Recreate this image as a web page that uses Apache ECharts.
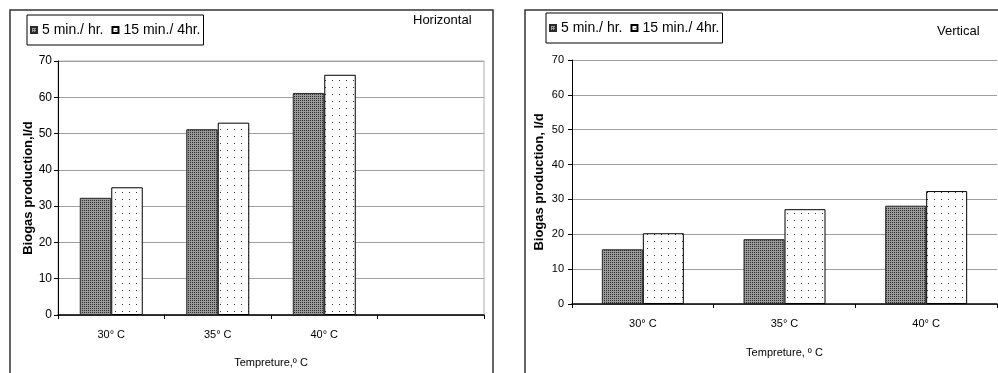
<!DOCTYPE html>
<html lang="en">
<head>
    <meta charset="UTF-8">
    <title>Biogas production</title>
    <style>
        html, body { margin: 0; padding: 0; background: #fff; }
        #chart { width: 998px; height: 373px; }
    </style>
</head>
<body>
    <div id="chart"></div>
    <script src="https://cdn.jsdelivr.net/npm/echarts@6/dist/echarts.min.js"></script>
    <script>
        // data
        var seriesNames = ['5 min./ hr.', '15 min./ 4hr.'];
        var catsHorizontal = ['30° C', '35° C', '40° C', ''];
        var catsVertical = ['30° C', '35° C', '40° C'];
        var horizShort = [32.3, 51.2, 61.2];
        var horizLong = [35.2, 53.0, 66.2];
        var vertShort = [15.7, 18.6, 28.2];
        var vertLong = [20.3, 27.2, 32.4];
        var yMin = 0, yMax = 70, yStep = 10;

        var font = 'Liberation Sans, Arial, sans-serif';

        // fill patterns: dark stipple and sparse dots
        function makeDark() {
            var c = document.createElement('canvas');
            c.width = 2; c.height = 2;
            var g = c.getContext('2d');
            g.fillStyle = '#9a9a9a';
            g.fillRect(0, 0, 2, 2);
            g.fillStyle = '#2e2e2e';
            g.fillRect(0, 0, 1, 1);
            return c;
        }
        function makeDots() {
            var c = document.createElement('canvas');
            c.width = 7; c.height = 7;
            var g = c.getContext('2d');
            g.fillStyle = '#fff';
            g.fillRect(0, 0, 7, 7);
            g.fillStyle = '#333';
            g.fillRect(3, 3, 1, 1);
            return c;
        }
        var darkFill = { image: makeDark(), repeat: 'repeat' };
        var dotFill = { image: makeDots(), repeat: 'repeat' };

        function yAxis(idx, labelSize, labelMargin, nameGap, name) {
            return {
                gridIndex: idx,
                type: 'value',
                min: yMin, max: yMax, interval: yStep,
                name: name,
                nameLocation: 'middle',
                nameGap: nameGap,
                nameTextStyle: { fontFamily: font, fontSize: 13, fontWeight: 'bold', color: '#000' },
                axisLine: { show: true, lineStyle: { color: '#000', width: 1 } },
                axisTick: { show: true, length: 4, lineStyle: { color: '#000' } },
                axisLabel: { fontFamily: font, fontSize: labelSize, color: '#000', margin: labelMargin },
                splitLine: { lineStyle: { color: '#a0a0a0', width: 1 } }
            };
        }
        function xAxis(idx, cats, name, nameGap) {
            return {
                gridIndex: idx,
                type: 'category',
                data: cats,
                name: name,
                nameLocation: 'middle',
                nameGap: nameGap,
                nameTextStyle: { fontFamily: font, fontSize: 11, color: '#000' },
                axisLine: { lineStyle: { color: '#000', width: 1.5 } },
                axisTick: { show: true, length: 4, interval: 0, lineStyle: { color: '#000' } },
                axisLabel: { fontFamily: font, fontSize: 11, color: '#000', margin: 14, interval: 0 }
            };
        }
        function legend(left, top) {
            return {
                left: left, top: top,
                data: seriesNames,
                icon: 'rect',
                itemWidth: 6, itemHeight: 6,
                itemGap: 8,
                padding: [8, 3, 8, 3],
                borderColor: '#000', borderWidth: 1,
                backgroundColor: '#fff',
                selectedMode: false,
                textStyle: { fontFamily: font, fontSize: 14, color: '#000' }
            };
        }
        function bar(name, idx, values, fill, border, width) {
            return {
                name: name,
                type: 'bar',
                xAxisIndex: idx, yAxisIndex: idx,
                data: values,
                barWidth: width,
                barGap: '0%',
                itemStyle: { color: fill, borderColor: border, borderWidth: 1 },
                emphasis: { disabled: true },
                animation: false
            };
        }

        var myChart = echarts.init(document.getElementById('chart'));
        var option = {
            animation: false,
            grid: [
                { left: 58, top: 61, right: 514, bottom: 58, show: true, borderColor: '#b0b0b0', borderWidth: 1 },
                { left: 572, top: 60, right: 1, bottom: 69 }
            ],
            legend: [legend(27, 15), legend(546, 13)],
            xAxis: [
                xAxis(0, catsHorizontal, 'Tempreture,º C', 42),
                xAxis(1, catsVertical, 'Tempreture, º C', 43)
            ],
            yAxis: [
                yAxis(0, 12, 6, 22, 'Biogas production,l/d'),
                yAxis(1, 11, 8, 26, 'Biogas production, l/d')
            ],
            series: [
                bar(seriesNames[0], 0, horizShort, darkFill, '#2a2a2a', 31.5),
                bar(seriesNames[1], 0, horizLong, dotFill, '#000', 31.5),
                bar(seriesNames[0], 1, vertShort, darkFill, '#2a2a2a', 41),
                bar(seriesNames[1], 1, vertLong, dotFill, '#000', 41)
            ],
            graphic: [
                { type: 'rect', shape: { x: 10, y: 10, width: 483, height: 420 },
                  style: { fill: 'none', stroke: '#333', lineWidth: 1.5 }, z: 100 },
                { type: 'rect', shape: { x: 525, y: 10, width: 520, height: 420 },
                  style: { fill: 'none', stroke: '#333', lineWidth: 1.5 }, z: 100 },
                { type: 'text', left: 413, top: 14,
                  style: { text: 'Horizontal', font: '13px ' + font, fill: '#000' } },
                { type: 'text', left: 937, top: 25,
                  style: { text: 'Vertical', font: '13px ' + font, fill: '#000' } }
            ]
        };
        myChart.setOption(option);
    </script>
</body>
</html>
